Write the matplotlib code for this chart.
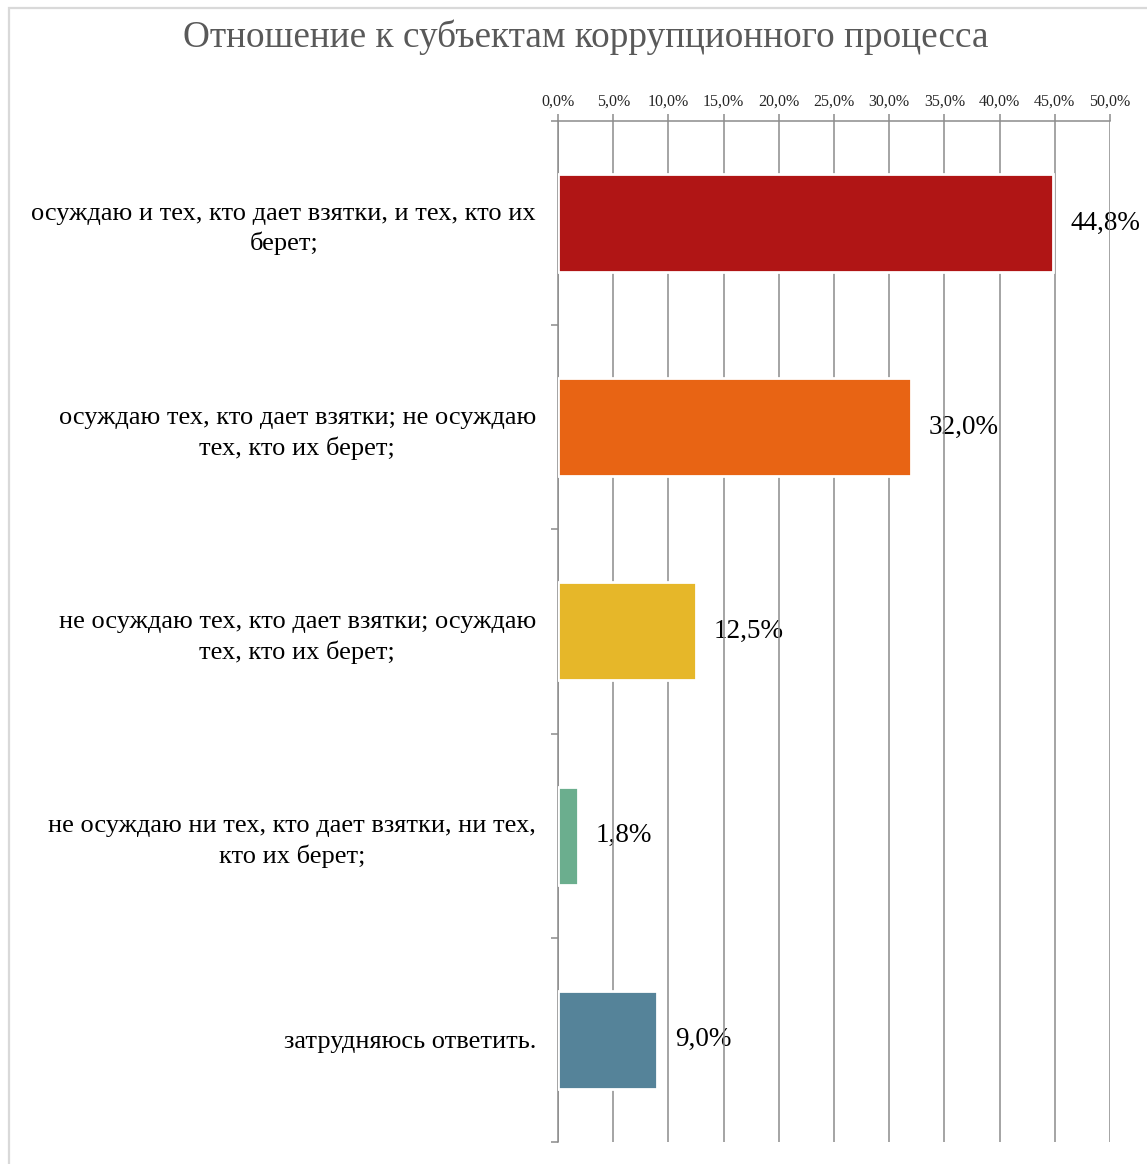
import matplotlib.pyplot as plt
from matplotlib.patches import Rectangle

plt.rcParams['font.family'] = ['Liberation Serif', 'DejaVu Serif']

# данные
categories = [
    "осуждаю и тех, кто дает взятки, и тех, кто их\nберет;",
    "осуждаю тех, кто дает взятки; не осуждаю\nтех, кто их берет;",
    "не осуждаю тех, кто дает взятки; осуждаю\nтех, кто их берет;",
    "не осуждаю ни тех, кто дает взятки, ни тех,\nкто их берет;",
    "затрудняюсь ответить.",
]
values = [44.8, 32.0, 12.5, 1.8, 9.0]
colors = ["#B01515", "#E86414", "#E6B729", "#6BAE8E", "#558399"]
ticks = [0, 5, 10, 15, 20, 25, 30, 35, 40, 45, 50]
tick_labels = [f"{t:.1f}%".replace(".", ",") for t in ticks]

fig = plt.figure(figsize=(11.47, 11.64), dpi=100)
ax = fig.add_axes([0.4865, 0.0189, 0.4812, 0.8772])

grid_c = "#8c8c8c"
y = list(range(len(categories)))
ax.barh(y, values, height=0.48, color=colors, edgecolor="white", linewidth=2, zorder=3)

for yi, v in zip(y, values):
    ax.text(v + 1.6, yi, f"{v:.1f}%".replace(".", ","), va="center", ha="left",
            fontsize=19.5, color="black", zorder=1)

ax.set_xlim(0, 50)
ax.set_ylim(len(categories) - 0.5, -0.5)
ax.xaxis.tick_top()
ax.set_xticks(ticks)
ax.set_xticklabels(tick_labels, fontsize=11.5, color="#262626")
ax.tick_params(axis="x", direction="out", length=5, width=1.1, color=grid_c, pad=3)

ax.set_yticks([i - 0.5 for i in range(len(categories) + 1)])
ax.set_yticklabels([])
ax.set_yticks(y, minor=True)
ax.set_yticklabels(categories, minor=True, fontsize=19, ha="center",
                   multialignment="center", linespacing=1.38)
ax.tick_params(axis="y", which="major", direction="out", length=5, width=1.1, color=grid_c)
ax.tick_params(axis="y", which="minor", length=0, pad=0)

# подписи категорий: правый край около x=536
fig.canvas.draw()
for lbl in ax.get_yticklabels(minor=True):
    lbl.set_horizontalalignment("right")
    lbl.set_x(-0.04)

ax.grid(axis="x", color=grid_c, linewidth=1.1, zorder=2)
for s in ["right", "bottom"]:
    ax.spines[s].set_visible(False)
for s in ["top", "left"]:
    ax.spines[s].set_color(grid_c)
    ax.spines[s].set_linewidth(1.1)

fig.text(0.511, 0.968, "Отношение к субъектам коррупционного процесса",
         ha="center", va="center", fontsize=26.8, color="#595959")

# рамка диаграммы
fig.patches.append(Rectangle((0.0075, -0.01), 1.1, 1.003, transform=fig.transFigure,
                             fill=False, edgecolor="#d9d9d9", linewidth=1.6))

fig.savefig("out.png", dpi=100)
